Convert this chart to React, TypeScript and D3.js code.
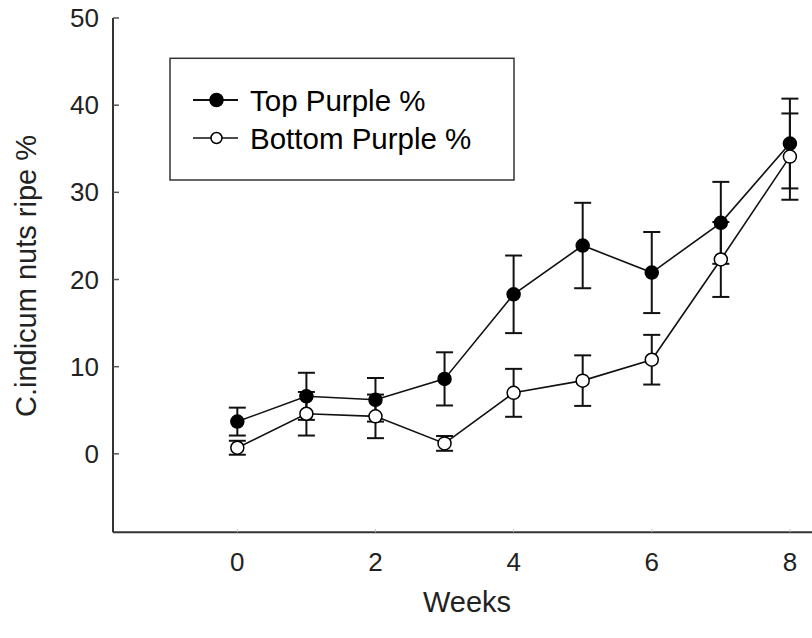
import React from "react";
import * as d3 from "d3";

const weeks = [0, 1, 2, 3, 4, 5, 6, 7, 8];
const topPurple = [3.7, 6.6, 6.2, 8.6, 18.3, 23.9, 20.8, 26.5, 35.6];
const topPurpleErr = [1.6, 2.7, 2.5, 3.05, 4.45, 4.9, 4.65, 4.7, 5.15];
const bottomPurple = [0.7, 4.6, 4.3, 1.2, 7.0, 8.4, 10.8, 22.3, 34.1];
const bottomPurpleErr = [0.8, 2.5, 2.5, 0.85, 2.75, 2.9, 2.85, 4.3, 4.95];
const xTicks = [0, 2, 4, 6, 8];
const yTicks = [0, 10, 20, 30, 40, 50];
const seriesNames = ["Top Purple %", "Bottom Purple %"];
const xTitle = "Weeks";
const yTitle = "C.indicum nuts ripe %";

const W = 812;
const H = 638;
const FONT = "'Liberation Sans', Arial, sans-serif";

export default function App() {
  const x = d3.scaleLinear().domain([-1.8, 8.32]).range([113, 812]);
  const y = d3.scaleLinear().domain([-9, 50]).range([532.3, 18]);
  const line = d3
    .line<number>()
    .x((_, i) => x(weeks[i]))
    .y((d) => y(d));

  const series = [
    { vals: topPurple, err: topPurpleErr, fill: "#000" },
    { vals: bottomPurple, err: bottomPurpleErr, fill: "#fff" },
  ];
  const cap = 8.5;
  const r = 6.5;

  return (
    <svg
      width={W}
      height={H}
      style={{ position: "absolute", left: 0, top: 0, background: "#fff" }}
      fontFamily={FONT}
    >
      <rect x={0} y={0} width={W} height={H} fill="#fff" />
      {/* axes */}
      <line x1={x(-1.8)} x2={x(-1.8)} y1={y(50)} y2={y(-9)} stroke="#333" strokeWidth={2} />
      <line x1={x(-1.8)} x2={W} y1={y(-9)} y2={y(-9)} stroke="#333" strokeWidth={2} />
      {yTicks.map((t) => (
        <g key={"y" + t}>
          <line x1={x(-1.8)} x2={x(-1.8) + 6} y1={y(t)} y2={y(t)} stroke="#555" strokeWidth={1.5} />
          <text x={99} y={y(t)} textAnchor="end" dominantBaseline="central" fontSize={26} fill="#222">
            {t}
          </text>
        </g>
      ))}
      {xTicks.map((t) => (
        <g key={"x" + t}>
          <line x1={x(t)} x2={x(t)} y1={y(-9)} y2={y(-9) - 3} stroke="#bbb" strokeWidth={1} />
          <text x={x(t)} y={571} textAnchor="middle" fontSize={26} fill="#222">
            {t}
          </text>
        </g>
      ))}
      <text x={467} y={612} textAnchor="middle" fontSize={29} fill="#222">
        {xTitle}
      </text>
      <text
        transform={`translate(36,276) rotate(-90)`}
        textAnchor="middle"
        fontSize={29}
        fill="#222"
      >
        {yTitle}
      </text>

      {/* error bars */}
      {series.map((s, si) =>
        s.vals.map((v, i) => {
          const cx = x(weeks[i]);
          const hi = y(v + s.err[i]);
          const lo = y(v - s.err[i]);
          return (
            <g key={`e${si}-${i}`} stroke="#111" strokeWidth={2}>
              <line x1={cx} x2={cx} y1={hi} y2={lo} />
              <line x1={cx - cap} x2={cx + cap} y1={hi} y2={hi} />
              <line x1={cx - cap} x2={cx + cap} y1={lo} y2={lo} />
            </g>
          );
        })
      )}
      {/* lines */}
      {series.map((s, si) => (
        <path key={"l" + si} d={line(s.vals) || ""} fill="none" stroke="#111" strokeWidth={1.6} />
      ))}
      {/* markers */}
      {series.map((s, si) =>
        s.vals.map((v, i) => (
          <circle
            key={`m${si}-${i}`}
            cx={x(weeks[i])}
            cy={y(v)}
            r={r}
            fill={s.fill}
            stroke="#000"
            strokeWidth={1.5}
          />
        ))
      )}

      {/* legend */}
      <rect x={170} y={58.3} width={344} height={121.7} fill="#fff" stroke="#333" strokeWidth={1.5} />
      {seriesNames.map((n, i) => {
        const ly = i === 0 ? 100 : 138;
        return (
          <g key={"lg" + i}>
            <line x1={193} x2={238} y1={ly} y2={ly} stroke="#111" strokeWidth={i === 0 ? 2 : 1.5} />
            <circle cx={216.5} cy={ly} r={i === 0 ? 6.5 : 5.5} fill={series[i].fill} stroke="#000" strokeWidth={1.5} />
            <text x={250} y={ly} dominantBaseline="central" fontSize={29.5} fill="#000">
              {n}
            </text>
          </g>
        );
      })}
    </svg>
  );
}
